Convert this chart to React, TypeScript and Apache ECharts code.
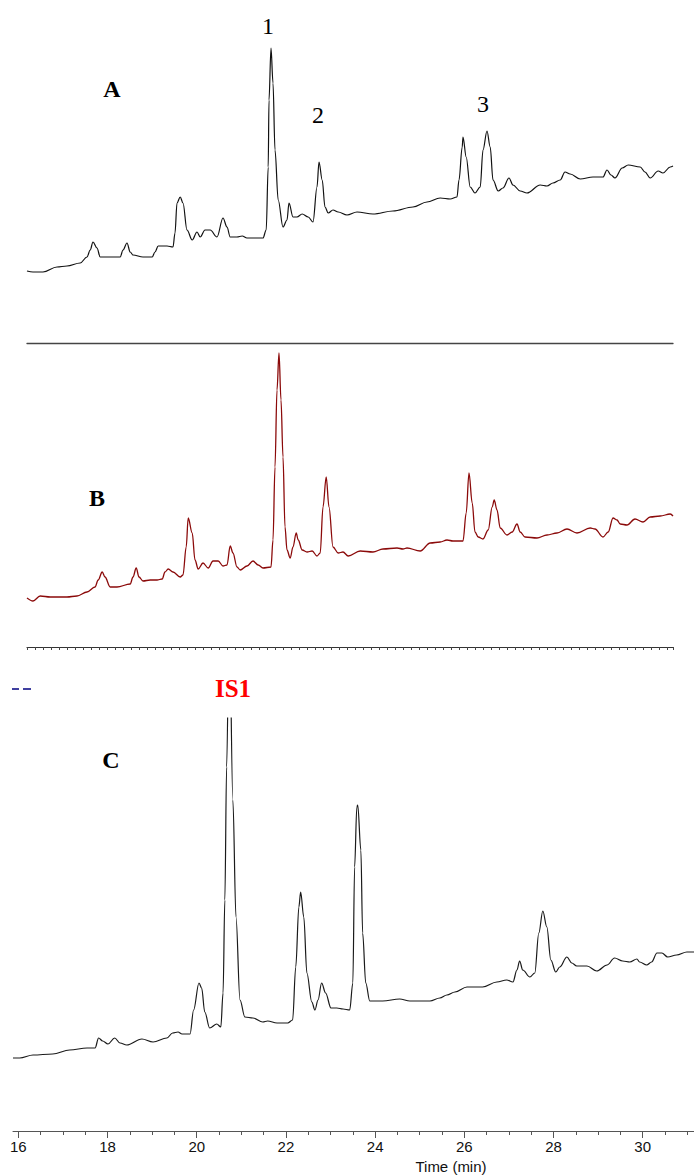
import React, { useEffect, useRef } from "react";
import * as echarts from "echarts";

// Panel A chromatogram: [time (min), intensity]
const traceA: [number, number][] = [
  [16.0, 72], [16.15, 71], [16.4, 71], [16.75, 76], [17.0, 77], [17.33, 80], [17.5, 86], [17.58, 93],
  [17.65, 101], [17.75, 95], [17.83, 86], [18.0, 86], [18.15, 86], [18.33, 86], [18.4, 93], [18.5, 100],
  [18.58, 91], [18.65, 88], [18.9, 86], [19.13, 86], [19.2, 91], [19.28, 97], [19.5, 97], [19.65, 96],
  [19.7, 110], [19.75, 140], [19.83, 146], [19.9, 140], [20.0, 113], [20.13, 103], [20.25, 111], [20.33, 106],
  [20.45, 113], [20.58, 113], [20.75, 106], [20.9, 125], [21.0, 116], [21.08, 106], [21.25, 106], [21.38, 107],
  [21.5, 105], [21.9, 105], [21.98, 113], [22.03, 176], [22.05, 243], [22.1, 295], [22.15, 260], [22.2, 193],
  [22.28, 143], [22.4, 116], [22.5, 123], [22.55, 140], [22.65, 126], [22.75, 126], [22.88, 129], [23.03, 126],
  [23.15, 121], [23.25, 156], [23.3, 181], [23.38, 163], [23.45, 136], [23.53, 130], [23.65, 133], [23.78, 131],
  [24.0, 128], [24.25, 131], [24.65, 129], [25.15, 132], [25.65, 136], [26.0, 141], [26.33, 145], [26.58, 144],
  [26.75, 146], [26.8, 163], [26.88, 196], [26.9, 206], [26.98, 186], [27.08, 156], [27.2, 150], [27.33, 156],
  [27.4, 193], [27.5, 212], [27.58, 196], [27.65, 163], [27.78, 152], [27.9, 155], [28.05, 165], [28.15, 158],
  [28.33, 152], [28.5, 150], [28.83, 158], [29.0, 157], [29.15, 160], [29.33, 163], [29.45, 171], [29.58, 169],
  [29.83, 164], [30.15, 166], [30.4, 166], [30.5, 173], [30.6, 168], [30.7, 165], [30.88, 175], [31.03, 178],
  [31.33, 176], [31.45, 171], [31.58, 165], [31.78, 172], [31.9, 170], [32.08, 176], [32.15, 177],
];

// Panel B chromatogram: [time (min), intensity]
const traceB: [number, number][] = [
  [16.0, 49], [16.15, 46], [16.33, 51], [16.58, 50], [16.83, 50], [17.0, 50], [17.25, 51], [17.5, 55],
  [17.7, 60], [17.78, 67], [17.88, 75], [17.95, 70], [18.08, 60], [18.25, 60], [18.58, 63], [18.65, 70],
  [18.73, 79], [18.8, 70], [18.9, 66], [19.08, 67], [19.25, 67], [19.38, 68], [19.45, 75], [19.53, 78],
  [19.65, 75], [19.83, 70], [19.9, 72], [19.98, 100], [20.03, 129], [20.13, 114], [20.2, 87], [20.28, 78],
  [20.4, 84], [20.53, 79], [20.65, 86], [20.78, 86], [20.9, 81], [21.0, 82], [21.08, 101], [21.15, 94],
  [21.25, 80], [21.33, 77], [21.5, 81], [21.65, 86], [21.78, 82], [21.9, 79], [22.1, 80], [22.15, 107],
  [22.2, 180], [22.25, 257], [22.3, 294], [22.35, 247], [22.4, 190], [22.45, 120], [22.5, 97], [22.58, 89],
  [22.65, 100], [22.73, 114], [22.78, 107], [22.88, 97], [23.0, 95], [23.13, 96], [23.25, 91], [23.33, 94],
  [23.4, 140], [23.48, 170], [23.55, 140], [23.65, 100], [23.78, 94], [23.9, 95], [24.03, 91], [24.33, 96],
  [24.65, 95], [24.9, 98], [25.25, 99], [25.4, 98], [25.5, 99], [25.83, 96], [26.08, 104], [26.33, 105],
  [26.5, 107], [26.65, 106], [26.9, 106], [26.98, 134], [27.05, 174], [27.13, 144], [27.2, 115], [27.28, 110],
  [27.4, 108], [27.53, 117], [27.63, 140], [27.68, 147], [27.75, 137], [27.83, 119], [28.0, 112], [28.13, 115],
  [28.25, 123], [28.33, 115], [28.45, 110], [28.75, 109], [29.0, 112], [29.25, 114], [29.5, 118], [29.75, 114],
  [30.08, 119], [30.2, 118], [30.4, 110], [30.53, 115], [30.65, 129], [30.75, 127], [30.83, 123], [31.0, 122],
  [31.2, 128], [31.4, 125], [31.58, 130], [31.83, 131], [32.08, 133], [32.15, 131],
];

// Panel C chromatogram: [time (min), intensity]  (IS1 peak runs off scale)
const traceC: [number, number][] = [
  [15.88, 73], [16.03, 73], [16.33, 76], [16.77, 77], [17.15, 81], [17.54, 83], [17.72, 83], [17.8, 93],
  [17.89, 90], [18.01, 87], [18.16, 93], [18.28, 88], [18.43, 86], [18.77, 92], [19.02, 89], [19.33, 93],
  [19.46, 98], [19.58, 99], [19.67, 97], [19.85, 97], [19.93, 121], [20.05, 148], [20.11, 143], [20.18, 119],
  [20.29, 103], [20.45, 107], [20.54, 104], [20.59, 138], [20.63, 231], [20.67, 364], [20.73, 520], [20.81, 331],
  [20.88, 214], [20.97, 131], [21.08, 114], [21.26, 113], [21.48, 109], [21.59, 110], [21.8, 108], [22.04, 108],
  [22.15, 111], [22.22, 164], [22.29, 224], [22.33, 239], [22.4, 214], [22.47, 158], [22.58, 129], [22.65, 121],
  [22.72, 131], [22.8, 148], [22.89, 138], [23.01, 123], [23.14, 123], [23.28, 122], [23.43, 121], [23.5, 148],
  [23.54, 264], [23.59, 324], [23.61, 326], [23.68, 281], [23.72, 198], [23.79, 148], [23.88, 130], [24.17, 130],
  [24.55, 132], [24.78, 130], [25.23, 130], [25.45, 133], [25.61, 136], [25.79, 139], [26.06, 144], [26.41, 144],
  [26.73, 149], [26.95, 151], [27.09, 149], [27.18, 161], [27.24, 170], [27.31, 161], [27.47, 154], [27.58, 158],
  [27.67, 198], [27.76, 220], [27.85, 204], [27.94, 171], [28.05, 159], [28.14, 164], [28.3, 174], [28.41, 168],
  [28.52, 165], [28.75, 165], [28.97, 160], [29.2, 166], [29.37, 173], [29.55, 170], [29.71, 169], [29.87, 172],
  [29.93, 169], [30.09, 166], [30.2, 169], [30.32, 178], [30.43, 178], [30.56, 174], [30.76, 176], [30.99, 179],
  [31.15, 179],
];

const majorTicksC = [16, 18, 20, 22, 24, 26, 28, 30];
const minorTicksC = [16.5, 17, 17.5, 18.5, 19, 19.5, 20.5, 21, 21.5, 22.5, 23, 23.5, 24.5, 25, 25.5, 26.5, 27, 27.5, 28.5, 29, 29.5, 30.5, 31];
const panelLabels = ["A", "B", "C"];
const peakLabels = ["1", "2", "3"];
const standardLabel = "IS1";
const axisTitle = "Time (min)";

export default function App() {
  const ref = useRef<HTMLDivElement>(null);
  useEffect(() => {
    document.body.style.margin = "0";
    const chart = echarts.init(ref.current!, null, { renderer: "svg" });
    const serif = "'Liberation Serif', 'Times New Roman', serif";
    const sans = "'Liberation Sans', Arial, sans-serif";
    const txt = (text: string, x: number, y: number, font: string, fill = "#000") => ({
      type: "text",
      style: { text, x, y, font, fill, align: "center", verticalAlign: "middle", textAlign: "center", textVerticalAlign: "middle" },
    });
    const lineSeries = (idx: number, data: [number, number][], color: string, width: number) => ({
      type: "line", xAxisIndex: idx, yAxisIndex: idx, data, showSymbol: false, symbol: "none",
      smooth: 0.35, smoothMonotone: "x",
      lineStyle: { color, width }, clip: true,
    });
    const option: any = {
      animation: false,
      backgroundColor: "#fff",
      grid: [
        { left: 27, right: 21, top: 0, height: 343, outerBoundsMode: "none" },
        { left: 27, right: 21, top: 343, height: 304, outerBoundsMode: "none" },
        { left: 13, right: 0, top: 718, height: 413, outerBoundsMode: "none" },
      ],
      xAxis: [
        {
          gridIndex: 0, type: "value", min: 16, max: 32.15, position: "bottom",
          axisLine: { show: true, lineStyle: { color: "#444", width: 1.3 } },
          axisTick: { show: false }, axisLabel: { show: false }, splitLine: { show: false },
        },
        {
          gridIndex: 1, type: "value", min: 16, max: 32.15, interval: 0.2, position: "bottom",
          axisLine: { show: true, lineStyle: { color: "#333", width: 1.2 } },
          axisTick: { show: true, length: 3, lineStyle: { color: "#444", width: 1 } },
          axisLabel: { show: false }, splitLine: { show: false },
        },
        {
          gridIndex: 2, type: "value", min: 15.88, max: 31.15, position: "bottom",
          axisLine: { show: true, lineStyle: { color: "#555", width: 1 } },
          axisTick: { show: true, length: 7, customValues: majorTicksC, lineStyle: { color: "#555", width: 1 } },
          axisLabel: {
            show: true, customValues: majorTicksC, margin: 8, fontSize: 15, fontFamily: sans, color: "#111",
            formatter: (v: number) => String(v),
          },
          splitLine: { show: false },
        },
        {
          gridIndex: 2, type: "value", min: 15.88, max: 31.15, position: "bottom",
          axisLine: { show: false },
          axisTick: { show: true, length: 4, customValues: minorTicksC, lineStyle: { color: "#555", width: 1 } },
          axisLabel: { show: false }, splitLine: { show: false },
        },
      ],
      yAxis: [
        { gridIndex: 0, type: "value", min: 0, max: 343, show: false },
        { gridIndex: 1, type: "value", min: 0, max: 304, show: false },
        { gridIndex: 2, type: "value", min: 0, max: 413, show: false },
      ],
      series: [
        lineSeries(0, traceA, "#111", 1.2),
        lineSeries(1, traceB, "#8b0a0a", 1.3),
        lineSeries(2, traceC, "#1a1a1a", 1.2),
      ],
      graphic: [
        txt(panelLabels[0], 112, 89, `bold 24px ${serif}`),
        txt(panelLabels[1], 97, 498, `bold 24px ${serif}`),
        txt(panelLabels[2], 111, 760, `bold 24px ${serif}`),
        txt(peakLabels[0], 268, 26, `24px ${serif}`),
        txt(peakLabels[1], 318, 115, `24px ${serif}`),
        txt(peakLabels[2], 483, 104, `24px ${serif}`),
        txt(standardLabel, 233, 688, `bold 25px ${serif}`, "#ff0000"),
        txt(axisTitle, 451, 1166, `15px ${sans}`, "#111"),
        { type: "line", shape: { x1: 12, y1: 689, x2: 19, y2: 689 }, style: { stroke: "#000080", lineWidth: 1.5 } },
        { type: "line", shape: { x1: 23, y1: 689, x2: 31, y2: 689 }, style: { stroke: "#000080", lineWidth: 1.5 } },
      ],
    };
    chart.setOption(option);
    return () => chart.dispose();
  }, []);
  return <div ref={ref} style={{ width: 694, height: 1175 }} />;
}
